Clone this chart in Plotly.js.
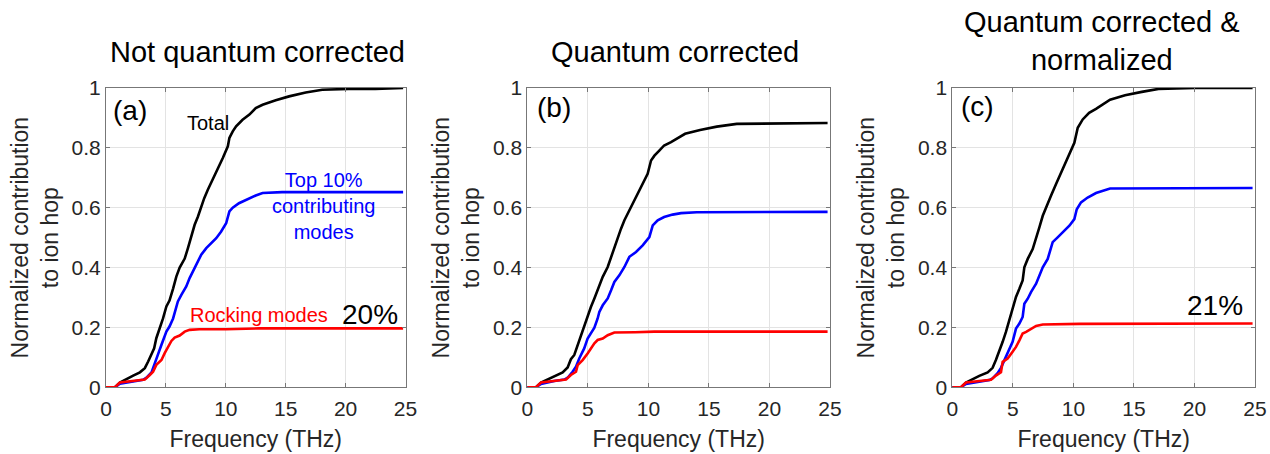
<!DOCTYPE html>
<html>
<head>
<meta charset="utf-8">
<script src="https://cdn.plot.ly/plotly-3.0.1.min.js"></script>
<style>html,body{margin:0;padding:0;background:#fff;}#chart{width:1270px;height:454px;}</style>
</head>
<body>
<div id="chart"></div>
<script>
// ---- Data ----
const panelTitles = ["Not quantum corrected", "Quantum corrected", "Quantum corrected &<br>normalized"];
const panelLabels = ["(a)", "(b)", "(c)"];
const xTickVals = [0, 5, 10, 15, 20, 25];
const yTickVals = [0, 0.2, 0.4, 0.6, 0.8, 1];

// Panel (a) Not quantum corrected
const freqTotalA = [0, 0.75, 1.16, 1.7, 2.27, 2.83, 3.24, 3.52, 3.8, 4.02, 4.2, 4.49, 4.76, 5.04, 5.3, 5.6, 5.87, 6.15, 6.57, 6.84, 7.1, 7.4, 7.67, 7.95, 8.2, 8.5, 8.9, 9.33, 9.75, 10.17, 10.3, 10.58, 10.86, 11.4, 11.97, 12.5, 13.07, 14.17, 15.28, 16.67, 18.05, 20.27, 22.48, 24.8];
const totalA = [0, 0, 0.016, 0.028, 0.039, 0.05, 0.064, 0.086, 0.11, 0.13, 0.164, 0.197, 0.23, 0.27, 0.29, 0.33, 0.37, 0.40, 0.43, 0.465, 0.50, 0.543, 0.57, 0.604, 0.632, 0.66, 0.693, 0.727, 0.766, 0.805, 0.833, 0.855, 0.872, 0.894, 0.911, 0.933, 0.944, 0.959, 0.972, 0.985, 0.994, 0.997, 0.997, 1.0];
const freqTopA = [0, 0.75, 1.16, 2.27, 3.1, 3.38, 3.8, 4.07, 4.35, 4.63, 5.04, 5.3, 5.6, 5.87, 6.0, 6.29, 6.7, 6.98, 7.26, 7.53, 7.95, 8.37, 8.78, 9.2, 9.6, 10.03, 10.3, 10.58, 11.1, 11.7, 12.5, 13.07, 14.7, 24.8];
const topA = [0, 0, 0.012, 0.019, 0.025, 0.032, 0.05, 0.08, 0.108, 0.142, 0.186, 0.203, 0.23, 0.27, 0.287, 0.309, 0.337, 0.365, 0.387, 0.41, 0.443, 0.465, 0.48, 0.498, 0.52, 0.548, 0.588, 0.60, 0.615, 0.627, 0.641, 0.649, 0.652, 0.652];
const freqRockA = [0, 0.75, 1.16, 2.27, 3.24, 3.66, 3.93, 4.2, 4.63, 4.9, 5.18, 5.46, 5.73, 6.15, 6.57, 6.98, 7.8, 10.03, 12.8, 24.8];
const rockA = [0, 0, 0.016, 0.021, 0.026, 0.041, 0.052, 0.075, 0.091, 0.114, 0.136, 0.155, 0.166, 0.173, 0.186, 0.192, 0.194, 0.194, 0.197, 0.197];

// Panel (b) Quantum corrected
const freqTotalB = [0, 0.72, 1.13, 1.68, 2.23, 2.92, 3.33, 3.6, 3.88, 4.16, 4.43, 4.7, 4.98, 5.26, 5.54, 5.95, 6.23, 6.64, 6.92, 7.19, 7.47, 7.74, 8.02, 8.29, 8.7, 9.12, 9.53, 9.94, 10.22, 10.5, 10.9, 11.3, 11.87, 12.56, 13.03, 14.27, 15.65, 17.3, 20.06, 24.8];
const totalB = [0, 0, 0.016, 0.026, 0.036, 0.05, 0.066, 0.094, 0.108, 0.141, 0.174, 0.208, 0.241, 0.269, 0.297, 0.341, 0.369, 0.402, 0.436, 0.469, 0.502, 0.53, 0.558, 0.58, 0.613, 0.647, 0.68, 0.713, 0.758, 0.774, 0.791, 0.808, 0.819, 0.834, 0.847, 0.86, 0.871, 0.88, 0.882, 0.883];
const freqTopB = [0, 0.72, 1.13, 2.23, 3.06, 3.33, 3.74, 4.02, 4.3, 4.7, 4.98, 5.26, 5.54, 5.81, 5.95, 6.23, 6.64, 6.92, 7.19, 7.6, 8.02, 8.43, 8.98, 9.53, 10.08, 10.36, 10.77, 11.3, 12.0, 12.7, 14.0, 24.8];
const topB = [0, 0, 0.011, 0.021, 0.026, 0.032, 0.052, 0.069, 0.097, 0.13, 0.163, 0.18, 0.199, 0.23, 0.252, 0.274, 0.297, 0.324, 0.352, 0.374, 0.402, 0.436, 0.452, 0.474, 0.502, 0.541, 0.558, 0.569, 0.577, 0.582, 0.585, 0.586];
const freqRockB = [0, 0.72, 1.13, 2.23, 3.2, 3.6, 4.02, 4.16, 4.57, 4.98, 5.26, 5.54, 5.81, 6.23, 6.64, 7.19, 8.9, 10.5, 24.8];
const rockB = [0, 0, 0.016, 0.021, 0.026, 0.041, 0.052, 0.074, 0.091, 0.113, 0.13, 0.147, 0.158, 0.163, 0.174, 0.183, 0.184, 0.186, 0.186];

// Panel (c) Quantum corrected & normalized
const freqTotalC = [0, 0.72, 1.13, 1.68, 2.23, 2.92, 3.33, 3.6, 3.88, 4.16, 4.43, 4.7, 4.98, 5.26, 5.54, 5.81, 5.95, 6.23, 6.64, 6.92, 7.19, 7.47, 7.74, 8.15, 8.57, 8.98, 9.39, 9.8, 10.08, 10.36, 10.77, 11.3, 11.87, 13.03, 14.27, 15.65, 17.02, 20.06, 24.8];
const totalC = [0, 0, 0.016, 0.028, 0.038, 0.05, 0.065, 0.091, 0.119, 0.152, 0.185, 0.224, 0.263, 0.302, 0.329, 0.357, 0.401, 0.429, 0.462, 0.496, 0.534, 0.573, 0.601, 0.64, 0.679, 0.717, 0.751, 0.79, 0.817, 0.867, 0.895, 0.917, 0.93, 0.961, 0.976, 0.987, 0.997, 1.0, 1.0];
const freqTopC = [0, 0.72, 1.13, 2.23, 3.06, 3.33, 3.74, 4.02, 4.3, 4.57, 4.98, 5.26, 5.54, 5.81, 5.95, 6.23, 6.5, 6.92, 7.19, 7.47, 7.88, 8.29, 8.7, 9.12, 9.67, 10.08, 10.28, 10.63, 11.18, 11.87, 12.56, 13.03, 24.8];
const topC = [0, 0, 0.011, 0.019, 0.024, 0.03, 0.047, 0.065, 0.091, 0.119, 0.152, 0.196, 0.213, 0.235, 0.279, 0.296, 0.318, 0.346, 0.374, 0.401, 0.429, 0.485, 0.501, 0.518, 0.54, 0.562, 0.595, 0.618, 0.634, 0.649, 0.658, 0.664, 0.666];
const freqRockC = [0, 0.72, 1.13, 2.23, 3.2, 3.6, 4.02, 4.16, 4.57, 4.98, 5.26, 5.54, 5.81, 6.1, 6.5, 6.92, 7.47, 10.5, 24.8];
const rockC = [0, 0, 0.016, 0.021, 0.025, 0.039, 0.05, 0.085, 0.096, 0.119, 0.135, 0.157, 0.18, 0.185, 0.196, 0.205, 0.21, 0.212, 0.213];

// ---- Build figure ----
const W = 1270, H = 454;
const FONT = "Liberation Sans, Arial, Helvetica, sans-serif";
const px = x => x / W;
const py = y => 1 - y / H;

const panels = [
  {tx: freqTotalA, t: totalA, bx: freqTopA, b: topA, rx: freqRockA, r: rockA},
  {tx: freqTotalB, t: totalB, bx: freqTopB, b: topB, rx: freqRockB, r: rockB},
  {tx: freqTotalC, t: totalC, bx: freqTopC, b: topC, rx: freqRockC, r: rockC}
];
const xDomains = [[106, 405.5], [527.3, 830], [952.3, 1255]];
const yDomain = [py(387.3), py(88)];

const traces = [];
panels.forEach((p, i) => {
  const xa = i === 0 ? 'x' : 'x' + (i + 1);
  const ya = i === 0 ? 'y' : 'y' + (i + 1);
  traces.push({x: p.tx, y: p.t, xaxis: xa, yaxis: ya, mode: 'lines', line: {color: '#000000', width: 2.6}, name: 'Total', showlegend: false});
  traces.push({x: p.bx, y: p.b, xaxis: xa, yaxis: ya, mode: 'lines', line: {color: '#0000FF', width: 2.6}, name: 'Top 10% contributing modes', showlegend: false});
  traces.push({x: p.rx, y: p.r, xaxis: xa, yaxis: ya, mode: 'lines', line: {color: '#FF0000', width: 2.6}, name: 'Rocking modes', showlegend: false});
});

const layout = {
  width: W, height: H,
  margin: {l: 0, r: 0, t: 0, b: 0},
  paper_bgcolor: '#ffffff', plot_bgcolor: '#ffffff',
  font: {family: FONT, color: '#262626'},
  showlegend: false,
  annotations: []
};

xDomains.forEach((d, i) => {
  const sfx = i === 0 ? '' : String(i + 1);
  layout['xaxis' + sfx] = {
    domain: [px(d[0]), px(d[1])], anchor: 'y' + sfx, range: [0, 25],
    tickvals: xTickVals, ticks: 'inside', ticklen: 4, tickcolor: '#777', tickwidth: 1,
    showline: true, linecolor: '#777', linewidth: 1, mirror: 'ticks',
    showgrid: true, gridcolor: '#e3e3e3', gridwidth: 1, zeroline: false,
    tickfont: {size: 21, color: '#262626', family: FONT},
    ticklabelstandoff: 2,
    title: {text: 'Frequency (THz)', font: {size: 23, color: '#262626', family: FONT}, standoff: 12}
  };
  layout['yaxis' + sfx] = {
    domain: yDomain, anchor: 'x' + sfx, range: [0, 1],
    tickvals: yTickVals, ticks: 'inside', ticklen: 4, tickcolor: '#777', tickwidth: 1,
    showline: true, linecolor: '#777', linewidth: 1, mirror: 'ticks',
    showgrid: true, gridcolor: '#e3e3e3', gridwidth: 1, zeroline: false,
    tickfont: {size: 21, color: '#262626', family: FONT},
    title: {text: 'Normalized contribution<br>to ion hop', font: {size: 23, color: '#262626', family: FONT}, standoff: 6}
  };
});

function ann(text, x, y, size, color, extra) {
  layout.annotations.push(Object.assign({
    text: text, xref: 'paper', yref: 'paper', x: px(x), y: py(y),
    xanchor: 'center', yanchor: 'middle', showarrow: false,
    font: {size: size, color: color, family: FONT}
  }, extra || {}));
}

// panel titles
ann(panelTitles[0], 257, 52, 29, '#000');
ann(panelTitles[1], 675, 52, 29, '#000');
ann(panelTitles[2], 1102, 41.5, 29, '#000');
// panel labels
ann(panelLabels[0], 129.5, 110, 28, '#000');
ann(panelLabels[1], 554, 108, 28, '#000');
ann(panelLabels[2], 977, 106, 28, '#000');
// curve labels
ann('Total', 208, 123, 20, '#000');
ann('Top 10%<br>contributing<br>modes', 323, 206, 20, '#0000FF');
ann('Rocking modes', 259, 315, 20, '#FF0000');
ann('20%', 370, 314, 28, '#000');
ann('21%', 1215, 305, 28, '#000');

Plotly.newPlot('chart', traces, layout, {staticPlot: true, displayModeBar: false});
</script>
</body>
</html>
